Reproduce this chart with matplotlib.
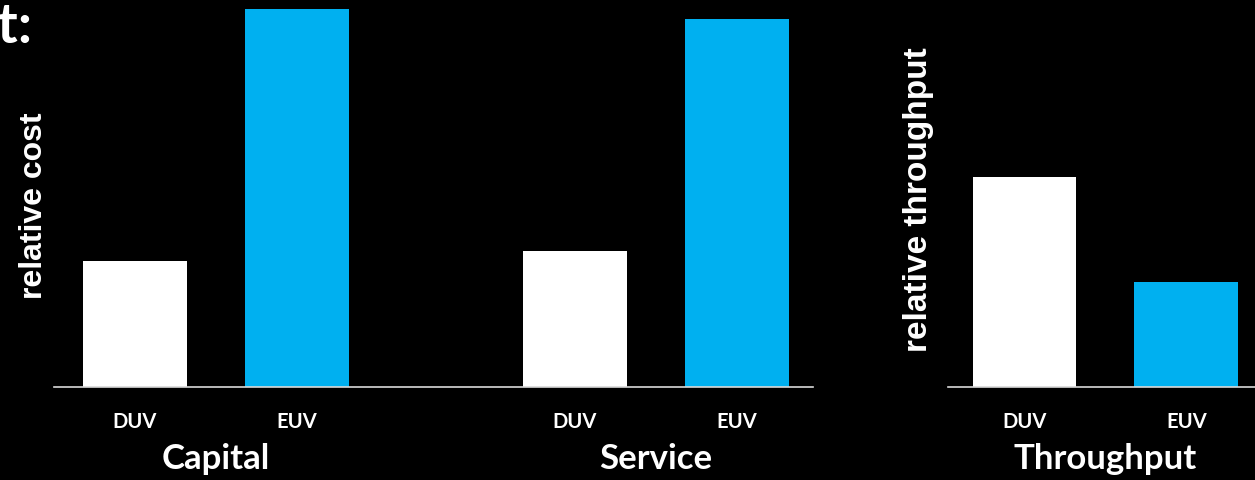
import matplotlib.pyplot as plt
from matplotlib.transforms import blended_transform_factory

# Relative cost (DUV capital = 1) and relative throughput
cost_groups = ["Capital", "Service"]
cost_duv = [1.0, 1.08]
cost_euv = [3.0, 2.92]

tput_group = "Throughput"
tput_duv = 2.0
tput_euv = 1.0

tools = ["DUV", "EUV"]

WHITE = "#FFFFFF"
BLUE = "#00B0F0"
LINE = "#D9D9D9"
LABEL_FONT = ["Lato", "DejaVu Sans"]
AXIS_FONT = ["Liberation Sans", "DejaVu Sans"]

fig = plt.figure(figsize=(12.55, 4.81), dpi=100, facecolor="black")

off, w = 0.184, 0.236


def style(ax):
    ax.set_facecolor("black")
    for side in ("top", "right", "left"):
        ax.spines[side].set_visible(False)
    ax.spines["bottom"].set_color(LINE)
    ax.spines["bottom"].set_linewidth(1.2)
    ax.set_yticks([])
    ax.tick_params(axis="x", length=0, pad=17, colors=WHITE)
    for lab in ax.get_xticklabels():
        lab.set_fontfamily(LABEL_FONT)
        lab.set_fontweight("bold")
        lab.set_fontsize(14.5)


def group_label(ax, x, text):
    tr = blended_transform_factory(ax.transData, fig.transFigure)
    ax.text(x, 0.024, text, transform=tr, ha="center", va="baseline",
            color=WHITE, fontsize=25, fontweight="bold", family=LABEL_FONT)


# cost panel
ax1 = fig.add_axes([54 / 1255, 93 / 481, 759 / 1255, 378 / 481])
xs = list(range(len(cost_groups)))
ax1.bar([x - off for x in xs], cost_duv, width=w, color=WHITE)
ax1.bar([x + off for x in xs], cost_euv, width=w, color=BLUE)
ax1.set_xlim(-0.368, 1.357)
ax1.set_ylim(0, 3.0)
ticks = []
for x in xs:
    ticks += [x - off, x + off]
ax1.set_xticks(ticks, tools * len(cost_groups))
style(ax1)
for x, g in zip(xs, cost_groups):
    group_label(ax1, x, g)

# throughput panel
ax2 = fig.add_axes([948 / 1255, 93 / 481, 307 / 1255, 378 / 481])
ax2.bar([-off], [tput_duv], width=w, color=WHITE)
ax2.bar([off], [tput_euv], width=w, color=BLUE)
ax2.set_xlim(-0.358, 0.340)
ax2.set_ylim(0, 3.6)
ax2.set_xticks([-off, off], tools)
style(ax2)
group_label(ax2, 0, tput_group)

fig.text(34 / 1255, 1 - 206 / 481, "relative cost", rotation=90,
         ha="center", va="center", color=WHITE, fontsize=23,
         fontweight="bold", family=AXIS_FONT)
fig.text(918 / 1255, 1 - 200 / 481, "relative throughput", rotation=90,
         ha="center", va="center", color=WHITE, fontsize=24,
         fontweight="bold", family=AXIS_FONT)

fig.text(-0.002, 1 - 43 / 481, "t:", ha="left", va="baseline", color=WHITE,
         fontsize=40, fontweight="bold", family=LABEL_FONT)

fig.savefig("out.png", dpi=100, facecolor="black")
plt.close(fig)
